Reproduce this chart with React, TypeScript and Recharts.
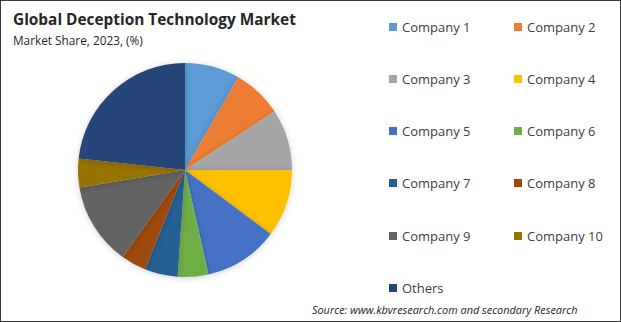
import { Cell, Pie, PieChart } from 'recharts';

const companies = [
  'Company 1',
  'Company 2',
  'Company 3',
  'Company 4',
  'Company 5',
  'Company 6',
  'Company 7',
  'Company 8',
  'Company 9',
  'Company 10',
  'Others',
];
const shares = [8.3, 7.5, 9.2, 10.2, 11.3, 4.6, 5.0, 3.8, 12.5, 4.3, 23.3];
const colors = [
  '#5b9bd5',
  '#ed7d31',
  '#a5a5a5',
  '#ffc000',
  '#4472c4',
  '#70ad47',
  '#255e91',
  '#9e480e',
  '#636363',
  '#997300',
  '#264478',
];

const FONT = '"Open Sans", "Noto Sans", sans-serif';

const data = companies.map((name, i) => ({ name, value: shares[i] }));

// legend is plain html so it doesn't eat into the pie's offset
function LegendGrid() {
  return (
    <div style={{ position: 'absolute', left: 388, top: 0, width: 230, height: 300 }}>
      {companies.map((name, i) => {
        const col = i % 2;
        const row = Math.floor(i / 2);
        return (
          <div
            key={name}
            style={{
              position: 'absolute',
              left: col * 125,
              top: 25.5 + row * 52.3 - 9,
              height: 18,
              display: 'flex',
              alignItems: 'center',
              fontFamily: FONT,
              fontSize: 13,
              color: '#404040',
              whiteSpace: 'nowrap',
            }}
          >
            <span style={{ width: 8, height: 8, background: colors[i], marginRight: 5, display: 'inline-block' }} />
            {name}
          </div>
        );
      })}
    </div>
  );
}

export default function App() {
  return (
    <div
      style={{
        position: 'fixed',
        left: 0,
        top: 0,
        width: 621,
        height: 322,
        boxSizing: 'border-box',
        border: '1px solid #3a3a3a',
        background: '#fff',
        overflow: 'hidden',
      }}
    >
      <div
        style={{
          position: 'absolute',
          left: 12,
          top: 8,
          fontFamily: FONT,
          fontWeight: 700,
          fontSize: 15.4,
          color: '#262626',
          whiteSpace: 'nowrap',
        }}
      >
        Global Deception Technology Market
      </div>
      <div
        style={{
          position: 'absolute',
          left: 12,
          top: 31,
          fontFamily: FONT,
          fontSize: 11.8,
          color: '#262626',
          whiteSpace: 'nowrap',
        }}
      >
        Market Share, 2023, (%)
      </div>
      <div style={{ position: 'absolute', left: -1, top: -1 }}>
        <PieChart width={621} height={322} margin={{ top: 0, right: 0, bottom: 0, left: 0 }}>
          <defs>
            <filter id="pieShadow" x="-20%" y="-20%" width="140%" height="140%">
              <feDropShadow dx="0" dy="1" stdDeviation="3" floodColor="#000" floodOpacity="0.18" />
            </filter>
          </defs>
          <Pie
            data={data}
            dataKey="value"
            nameKey="name"
            cx={185}
            cy={170}
            outerRadius={107}
            startAngle={90}
            endAngle={-270}
            stroke="none"
            isAnimationActive={false}
            style={{ filter: 'url(#pieShadow)' }}
          >
            {data.map((d, i) => (
              <Cell key={d.name} fill={colors[i]} />
            ))}
          </Pie>
        </PieChart>
      </div>
      <LegendGrid />
      <div
        style={{
          position: 'absolute',
          left: 311,
          top: 301,
          fontFamily: FONT,
          fontStyle: 'italic',
          fontSize: 10.9,
          color: '#262626',
          whiteSpace: 'nowrap',
        }}
      >
        Source: www.kbvresearch.com and secondary Research
      </div>
    </div>
  );
}
